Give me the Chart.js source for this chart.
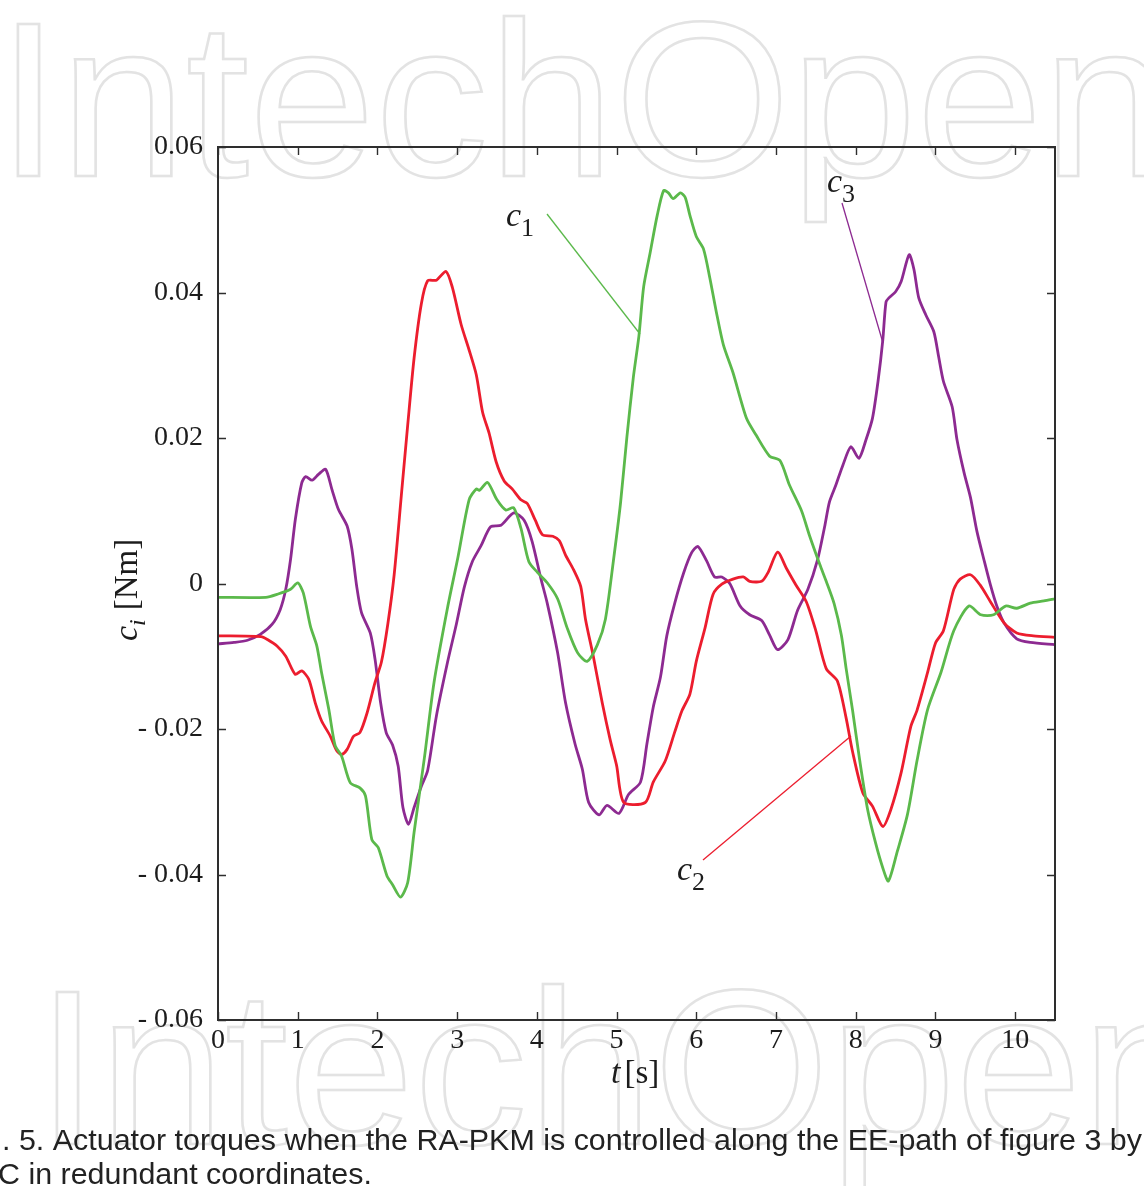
<!DOCTYPE html>
<html>
<head>
<meta charset="utf-8">
<script src="https://cdn.jsdelivr.net/npm/chart.js@4.4.1/dist/chart.umd.min.js"></script>
<style>
  html, body { margin: 0; padding: 0; background: #fff; }
  #wrap { width: 1144px; height: 1186px; }
</style>
</head>
<body>
<div id="wrap"><canvas id="chart" width="1144" height="1186"></canvas></div>
<script>
// values: t [s] and torque [Nm]
const c1Time = [
  0, 0.6, 0.74, 0.91, 1.0, 1.07, 1.16, 1.24, 1.30, 1.39,
  1.47, 1.55, 1.66, 1.78, 1.85, 1.93, 2.01, 2.12, 2.19, 2.29,
  2.38, 2.46, 2.59, 2.71, 2.88, 3.01, 3.15, 3.24, 3.28, 3.38,
  3.50, 3.61, 3.71, 3.80, 3.90, 4.01, 4.13, 4.26, 4.38, 4.51,
  4.63, 4.76, 4.86, 4.96, 5.05, 5.13, 5.21, 5.28, 5.34, 5.42,
  5.51, 5.59, 5.65, 5.71, 5.80, 5.86, 5.92, 6.00, 6.09, 6.17,
  6.25, 6.34, 6.46, 6.63, 6.75, 6.92, 7.05, 7.17, 7.32, 7.42,
  7.55, 7.63, 7.73, 7.82, 7.88, 7.96, 8.05, 8.15, 8.25, 8.34,
  8.41, 8.52, 8.65, 8.77, 8.90, 9.07, 9.23, 9.42, 9.57, 9.73,
  9.88, 10.02, 10.19, 10.36, 10.5
];
const c1Torque = [
  -0.0019, -0.0019, -0.0015, -0.0008, 0.0001, -0.0013, -0.0059, -0.0086, -0.0123, -0.0173,
  -0.0223, -0.0237, -0.0274, -0.0281, -0.0292, -0.0352, -0.0363, -0.0402, -0.0414, -0.0431,
  -0.0411, -0.0342, -0.0239, -0.0136, -0.0033, 0.0036, 0.0115, 0.0130, 0.0128, 0.0139,
  0.0115, 0.0101, 0.0104, 0.0076, 0.0030, 0.0015, 0.0001, -0.0021, -0.0061, -0.0095,
  -0.0107, -0.0084, -0.0049, 0.0031, 0.0111, 0.0202, 0.0283, 0.0340, 0.0408, 0.0454,
  0.0506, 0.0540, 0.0537, 0.0529, 0.0537, 0.0531, 0.0506, 0.0477, 0.0460, 0.0420,
  0.0374, 0.0328, 0.0290, 0.0227, 0.0204, 0.0175, 0.0169, 0.0135, 0.0100, 0.0066,
  0.0026, 0.0003, -0.0028, -0.0071, -0.0117, -0.0174, -0.0243, -0.0311, -0.0357, -0.0391,
  -0.0409, -0.0369, -0.0317, -0.0243, -0.0174, -0.0122, -0.0065, -0.0031, -0.0043, -0.0043,
  -0.0031, -0.0034, -0.0027, -0.0024, -0.0021
];

const c2Time = [
  0, 0.54, 0.62, 0.74, 0.85, 0.97, 1.05, 1.14, 1.22, 1.30,
  1.41, 1.49, 1.55, 1.62, 1.70, 1.78, 1.87, 1.97, 2.05, 2.13,
  2.21, 2.30, 2.38, 2.46, 2.55, 2.63, 2.74, 2.86, 2.94, 3.05,
  3.15, 3.24, 3.32, 3.40, 3.49, 3.59, 3.69, 3.80, 3.88, 3.98,
  4.07, 4.20, 4.28, 4.36, 4.46, 4.55, 4.61, 4.71, 4.82, 4.92,
  5.00, 5.09, 5.36, 5.46, 5.61, 5.73, 5.82, 5.92, 6.00, 6.11,
  6.21, 6.32, 6.46, 6.59, 6.67, 6.82, 6.90, 7.02, 7.13, 7.25,
  7.38, 7.50, 7.63, 7.77, 7.88, 7.96, 8.09, 8.21, 8.34, 8.44,
  8.57, 8.69, 8.77, 8.90, 9.00, 9.10, 9.23, 9.31, 9.44, 9.56,
  9.69, 9.86, 10.02, 10.23, 10.5
];
const c2Torque = [
  -0.0072, -0.0073, -0.0077, -0.0086, -0.0100, -0.0125, -0.0120, -0.0132, -0.0164, -0.0189,
  -0.0210, -0.0230, -0.0235, -0.0228, -0.0210, -0.0205, -0.0178, -0.0136, -0.0108, -0.0056,
  0.0012, 0.0121, 0.0218, 0.0310, 0.0384, 0.0416, 0.0417, 0.0429, 0.0407, 0.0356,
  0.0321, 0.0287, 0.0235, 0.0207, 0.0167, 0.0141, 0.0130, 0.0115, 0.0110, 0.0087,
  0.0067, 0.0065, 0.0059, 0.0039, 0.0019, -0.0004, -0.0049, -0.0101, -0.0164, -0.0215,
  -0.0250, -0.0301, -0.0301, -0.0273, -0.0244, -0.0204, -0.0175, -0.0152, -0.0107, -0.0061,
  -0.0015, -0.0001, 0.0006, 0.0009, 0.0003, 0.0003, 0.0015, 0.0043, 0.0021, -0.0002,
  -0.0025, -0.0065, -0.0117, -0.0134, -0.0185, -0.0231, -0.0288, -0.0306, -0.0334, -0.0311,
  -0.0260, -0.0197, -0.0174, -0.0123, -0.0082, -0.0065, -0.0008, 0.0006, 0.0012, -0.0002,
  -0.0025, -0.0054, -0.0068, -0.0072, -0.0074
];

const c3Time = [
  0, 0.2, 0.37, 0.53, 0.68, 0.78, 0.85, 0.91, 0.97, 1.05,
  1.10, 1.18, 1.26, 1.35, 1.43, 1.51, 1.62, 1.68, 1.74, 1.80,
  1.91, 1.97, 2.04, 2.11, 2.19, 2.26, 2.32, 2.39, 2.46, 2.55,
  2.63, 2.74, 2.88, 2.99, 3.09, 3.19, 3.30, 3.42, 3.55, 3.71,
  3.84, 3.94, 4.05, 4.13, 4.26, 4.36, 4.48, 4.57, 4.65, 4.78,
  4.88, 5.03, 5.15, 5.30, 5.38, 5.46, 5.55, 5.63, 5.73, 5.84,
  5.94, 6.02, 6.13, 6.23, 6.32, 6.42, 6.55, 6.67, 6.82, 6.92,
  7.02, 7.15, 7.27, 7.40, 7.52, 7.61, 7.67, 7.75, 7.84, 7.94,
  8.04, 8.13, 8.21, 8.28, 8.34, 8.38, 8.42, 8.50, 8.57, 8.67,
  8.73, 8.79, 8.88, 8.98, 9.04, 9.10, 9.21, 9.27, 9.36, 9.44,
  9.52, 9.61, 9.69, 9.77, 9.86, 10.02, 10.19, 10.5
];
const c3Torque = [
  -0.0083, -0.0081, -0.0078, -0.0070, -0.0056, -0.0036, -0.0008, 0.0033, 0.0088, 0.0138,
  0.0147, 0.0142, 0.0150, 0.0157, 0.0129, 0.0102, 0.0079, 0.0047, -0.0004, -0.0040,
  -0.0068, -0.0104, -0.0164, -0.0205, -0.0222, -0.0251, -0.0308, -0.0331, -0.0308, -0.0279,
  -0.0257, -0.0182, -0.0108, -0.0056, -0.0005, 0.0030, 0.0052, 0.0078, 0.0080, 0.0097,
  0.0087, 0.0058, 0.0007, -0.0027, -0.0095, -0.0164, -0.0221, -0.0255, -0.0301, -0.0318,
  -0.0305, -0.0316, -0.0290, -0.0273, -0.0221, -0.0170, -0.0129, -0.0072, -0.0027, 0.0014,
  0.0042, 0.0051, 0.0031, 0.0009, 0.0009, 0.0000, -0.0031, -0.0043, -0.0051, -0.0071,
  -0.0091, -0.0077, -0.0037, -0.0008, 0.0032, 0.0078, 0.0112, 0.0135, 0.0163, 0.0188,
  0.0172, 0.0198, 0.0227, 0.0278, 0.0335, 0.0387, 0.0393, 0.0401, 0.0415, 0.0452,
  0.0432, 0.0393, 0.0369, 0.0346, 0.0312, 0.0278, 0.0243, 0.0198, 0.0152, 0.0118,
  0.0072, 0.0032, -0.0002, -0.0031, -0.0054, -0.0076, -0.0081, -0.0084
];

const xTicks = [0, 1, 2, 3, 4, 5, 6, 7, 8, 9, 10];
const yTicks = [-0.06, -0.04, -0.02, 0, 0.02, 0.04, 0.06];

const captionLines = [
  '. 5. Actuator torques when the RA-PKM is controlled along the EE-path of figure 3 by',
  'C in redundant coordinates.'
];

const GREEN = '#5bb94b';
const RED = '#ec1d2e';
const PURPLE = '#8d2a91';
const INK = '#1c1c1c';
const SERIF = '"Liberation Serif", "DejaVu Serif", serif';

function points(ts, vs) {
  return ts.map((t, i) => ({x: t, y: vs[i]}));
}

function yLabel(v) {
  if (Math.abs(v) < 1e-9) return '0';
  if (v < 0) return '- ' + Math.abs(v).toFixed(2);
  return v.toFixed(2);
}

// draw a run of text pieces: [text, size, italic, dy, gapAfter]
function pieces(ctx, x, y, list, color) {
  ctx.fillStyle = color;
  ctx.textAlign = 'left';
  ctx.textBaseline = 'alphabetic';
  let cx = x;
  list.forEach(p => {
    ctx.font = (p[2] ? 'italic ' : '') + p[1] + 'px ' + SERIF;
    ctx.fillText(p[0], cx, y + (p[3] || 0));
    cx += ctx.measureText(p[0]).width + (p[4] || 0);
  });
}

function leader(ctx, x1, y1, x2, y2, color) {
  ctx.strokeStyle = color;
  ctx.lineWidth = 1.3;
  ctx.beginPath();
  ctx.moveTo(x1, y1);
  ctx.lineTo(x2, y2);
  ctx.stroke();
}

function watermark(ctx, x, y) {
  ctx.save();
  ctx.translate(x, y);
  ctx.scale(1.03, 1);
  ctx.strokeText('IntechOpen', 0, 0);
  ctx.restore();
}

const figurePlugin = {
  id: 'figure',
  beforeDraw(chart) {
    const ctx = chart.ctx;
    ctx.save();
    ctx.fillStyle = '#fff';
    ctx.fillRect(0, 0, chart.width, chart.height);
    // faint outlined watermark
    ctx.font = '220px "Liberation Sans", Arial, sans-serif';
    ctx.strokeStyle = '#e3e3e3';
    ctx.lineWidth = 2.5;
    ctx.textBaseline = 'alphabetic';
    watermark(ctx, -3, 176);
    watermark(ctx, 36, 1144);
    ctx.restore();
  },
  afterDatasetsDraw(chart) {
    const ctx = chart.ctx;
    const a = chart.chartArea;
    const xs = chart.scales.x;
    const ys = chart.scales.y;
    ctx.save();

    // frame
    ctx.strokeStyle = '#2e2e2e';
    ctx.lineWidth = 2;
    ctx.strokeRect(a.left, a.top, a.right - a.left, a.bottom - a.top);

    // inward ticks on all sides
    ctx.lineWidth = 1.4;
    ctx.beginPath();
    xTicks.forEach(t => {
      const px = Math.round(xs.getPixelForValue(t)) + 0.5;
      ctx.moveTo(px, a.bottom); ctx.lineTo(px, a.bottom - 8);
      ctx.moveTo(px, a.top); ctx.lineTo(px, a.top + 8);
    });
    yTicks.forEach(v => {
      const py = Math.round(ys.getPixelForValue(v)) + 0.5;
      ctx.moveTo(a.left, py); ctx.lineTo(a.left + 8, py);
      ctx.moveTo(a.right, py); ctx.lineTo(a.right - 8, py);
    });
    ctx.stroke();

    // curve labels
    leader(ctx, 547, 214, 640, 334, GREEN);
    leader(ctx, 842, 203, 883, 343, PURPLE);
    leader(ctx, 703, 860, 851, 736, RED);
    pieces(ctx, 506, 226, [['c', 34, true, 0, 0], ['1', 26, false, 10]], INK);
    pieces(ctx, 827, 192, [['c', 34, true, 0, 0], ['3', 26, false, 10]], INK);
    pieces(ctx, 677, 880, [['c', 34, true, 0, 0], ['2', 26, false, 10]], INK);

    // axis titles
    pieces(ctx, 611, 1083, [['t', 34, true, 0, 4], ['[s]', 33, false, 0]], INK);
    ctx.save();
    ctx.translate(137, 641);
    ctx.rotate(-Math.PI / 2);
    pieces(ctx, 0, 0, [['c', 34, true, 0, 0], ['i', 24, true, 8, 9], ['[Nm]', 33, false, 0]], INK);
    ctx.restore();

    // caption
    ctx.font = '29px "Liberation Sans", Arial, sans-serif';
    ctx.fillStyle = '#222';
    const s = 1140 / ctx.measureText(captionLines[0]).width;
    ctx.scale(s, 1);
    ctx.fillText(captionLines[0], 2 / s, 1150);
    ctx.fillText(captionLines[1], -2 / s, 1184);
    ctx.restore();
  }
};

const tickFont = {family: SERIF, size: 28};

new Chart(document.getElementById('chart'), {
  type: 'line',
  data: {
    datasets: [
      {label: 'c1', data: points(c1Time, c1Torque), borderColor: GREEN},
      {label: 'c2', data: points(c2Time, c2Torque), borderColor: RED},
      {label: 'c3', data: points(c3Time, c3Torque), borderColor: PURPLE}
    ]
  },
  options: {
    responsive: false,
    devicePixelRatio: 1,
    animation: false,
    layout: {padding: {left: 0, top: 147, right: 89, bottom: 0}},
    elements: {
      line: {borderWidth: 2.8, tension: 0.25, fill: false},
      point: {radius: 0}
    },
    plugins: {legend: {display: false}, tooltip: {enabled: false}},
    scales: {
      x: {
        type: 'linear',
        min: 0,
        max: 10.5,
        afterFit(scale) { scale.height = 166; },
        grid: {display: false, drawTicks: false},
        border: {display: false},
        ticks: {
          stepSize: 1,
          includeBounds: false,
          autoSkip: false,
          maxRotation: 0,
          padding: 4,
          color: INK,
          font: tickFont
        }
      },
      y: {
        min: -0.06,
        max: 0.06,
        afterFit(scale) { scale.width = 218; },
        grid: {display: false, drawTicks: false},
        border: {display: false},
        ticks: {
          stepSize: 0.02,
          padding: 15,
          color: INK,
          font: tickFont,
          callback: yLabel
        }
      }
    }
  },
  plugins: [figurePlugin]
});
</script>
</body>
</html>
